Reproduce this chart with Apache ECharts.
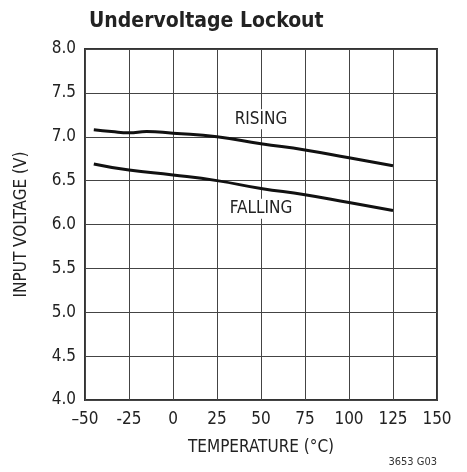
<!DOCTYPE html>
<html>
<head>
<meta charset="utf-8">
<script src="https://cdn.jsdelivr.net/npm/echarts@6/dist/echarts.min.js"></script>
<style>
  html, body { margin: 0; padding: 0; background: #fff; }
  #chart { width: 467px; height: 472px; }
</style>
</head>
<body>
<div id="chart"></div>
<script>
// temperature (°C) and input voltage (V)
const risingTemp = [-45, -35, -25, -15, 0, 25, 50, 75, 100, 125];
const risingVolt = [7.08, 7.06, 7.045, 7.06, 7.04, 7.0, 6.92, 6.85, 6.76, 6.67];
const fallingTemp = [-45, -25, 0, 25, 50, 75, 100, 125];
const fallingVolt = [6.69, 6.62, 6.565, 6.5, 6.41, 6.34, 6.25, 6.16];
const xTickLabels = { '-50': '\u201350', '-25': '-25' };
const labelFont = '"Liberation Sans Narrow", "DejaVu Sans Condensed", "Roboto", sans-serif';

const chart = echarts.init(document.getElementById('chart'));

function pairs(xs, ys) {
  return xs.map((x, i) => [x, ys[i]]);
}

const option = {
  animation: false,
  title: {
    text: 'Undervoltage Lockout',
    left: 84,
    top: 6,
    textStyle: { fontFamily: labelFont, fontWeight: 'bold', fontSize: 21, color: '#222' }
  },
  grid: { left: 85, right: 30, top: 49, bottom: 72, show: true, borderColor: '#333', borderWidth: 2 },
  xAxis: {
    type: 'value',
    min: -50,
    max: 150,
    interval: 25,
    name: 'TEMPERATURE (°C)',
    nameLocation: 'middle',
    nameGap: 39,
    nameTextStyle: { fontFamily: labelFont, fontSize: 17, color: '#222' },
    axisLine: { show: false },
    axisTick: { show: false },
    splitLine: { show: true, lineStyle: { color: '#444', width: 1 } },
    axisLabel: {
      margin: 11,
      fontFamily: labelFont,
      fontSize: 17,
      color: '#222',
      formatter: v => xTickLabels[v] || String(v)
    }
  },
  yAxis: {
    type: 'value',
    min: 4,
    max: 8,
    interval: 0.5,
    name: 'INPUT VOLTAGE (V)',
    nameLocation: 'middle',
    nameGap: 55,
    nameTextStyle: { fontFamily: labelFont, fontSize: 17, color: '#222' },
    axisLine: { show: false },
    axisTick: { show: false },
    splitLine: { show: true, lineStyle: { color: '#444', width: 1 } },
    axisLabel: {
      margin: 9,
      fontFamily: labelFont,
      fontSize: 17,
      color: '#222',
      formatter: v => v.toFixed(1)
    }
  },
  series: [
    {
      name: 'RISING',
      type: 'line',
      smooth: true,
      symbol: 'none',
      lineStyle: { color: '#111', width: 3 },
      data: pairs(risingTemp, risingVolt),
      markPoint: {
        symbol: 'rect',
        symbolSize: [66, 20],
        itemStyle: { color: '#fff' },
        label: { show: true, formatter: 'RISING', fontFamily: labelFont, fontSize: 17, color: '#222' },
        data: [{ coord: [50, 7.2] }]
      }
    },
    {
      name: 'FALLING',
      type: 'line',
      smooth: true,
      symbol: 'none',
      lineStyle: { color: '#111', width: 3 },
      data: pairs(fallingTemp, fallingVolt),
      markPoint: {
        symbol: 'rect',
        symbolSize: [78, 20],
        itemStyle: { color: '#fff' },
        label: { show: true, formatter: 'FALLING', fontFamily: labelFont, fontSize: 17, color: '#222' },
        data: [{ coord: [50, 6.18] }]
      }
    }
  ],
  graphic: [
    {
      type: 'text',
      right: 30,
      bottom: 4,
      style: { text: '3653 G03', fontFamily: labelFont, fontSize: 11, fill: '#333' }
    }
  ]
};

chart.setOption(option);
</script>
</body>
</html>
